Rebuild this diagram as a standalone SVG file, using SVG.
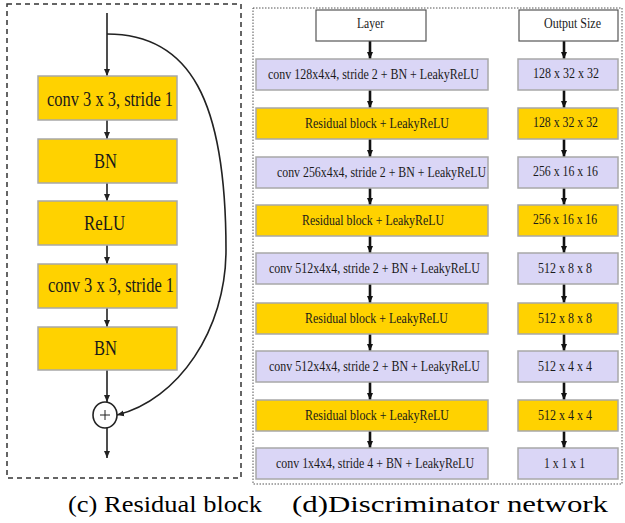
<svg xmlns="http://www.w3.org/2000/svg" width="625" height="523" viewBox="0 0 625 523">
<style>
.y{fill:#FFD200;stroke:#A8A8A8;stroke-width:1.5}
.p{fill:#DAD6F6;stroke:#A8A8A8;stroke-width:1.5}
.w{fill:#FFFFFF;stroke:#555;stroke-width:1.2}
text{font-family:"Liberation Serif","DejaVu Serif","Times New Roman",serif}
.t{fill:#1a1a1a}
.lt{font-size:20px;text-anchor:start}
.rt{font-size:14.5px;text-anchor:start}
.cap{font-size:24px;fill:#000}
.la{stroke:#222;stroke-width:1.6;fill:none}
.ra{stroke:#111;stroke-width:2.6;fill:none}
</style>
<defs>
<marker id="ah" markerUnits="userSpaceOnUse" markerWidth="8" markerHeight="8" refX="7" refY="4" orient="auto">
<path d="M0,1 L7,4 L0,7 Z" fill="#222"/>
</marker>
<marker id="ah2" markerUnits="userSpaceOnUse" markerWidth="8" markerHeight="8" refX="7" refY="4" orient="auto">
<path d="M0,1 L7,4 L0,7 Z" fill="#111"/>
</marker>
</defs>
<rect width="625" height="523" fill="#fff"/>
<!-- panel borders -->
<rect x="7" y="4" width="234" height="474" fill="none" stroke="#333" stroke-width="1.5" stroke-dasharray="5,4"/>
<rect x="253" y="8" width="369" height="476" fill="none" stroke="#555" stroke-width="1" stroke-dasharray="1.5,1.5"/>

<!-- connectors -->
<g id="connectors">
<line class="la" x1="107" y1="13" x2="107" y2="76" marker-end="url(#ah)"/>
<line class="la" x1="107" y1="120" x2="107" y2="139" marker-end="url(#ah)"/>
<line class="la" x1="107" y1="183" x2="107" y2="201" marker-end="url(#ah)"/>
<line class="la" x1="107" y1="245" x2="107" y2="264" marker-end="url(#ah)"/>
<line class="la" x1="107" y1="308" x2="107" y2="327" marker-end="url(#ah)"/>
<line class="la" x1="107" y1="370" x2="107" y2="402" marker-end="url(#ah)"/>
<line class="la" x1="107" y1="428" x2="107" y2="458" marker-end="url(#ah)"/>
<path class="la" d="M107,34 C190,34 226,100 226,250 C226,330 178,400 117,415" stroke-width="2" marker-end="url(#ah)"/>
<line class="ra" x1="370" y1="41" x2="370" y2="59" marker-end="url(#ah2)"/>
<line class="ra" x1="370" y1="90" x2="370" y2="108" marker-end="url(#ah2)"/>
<line class="ra" x1="370" y1="139" x2="370" y2="157" marker-end="url(#ah2)"/>
<line class="ra" x1="370" y1="188" x2="370" y2="205" marker-end="url(#ah2)"/>
<line class="ra" x1="370" y1="236" x2="370" y2="253" marker-end="url(#ah2)"/>
<line class="ra" x1="370" y1="284" x2="370" y2="303" marker-end="url(#ah2)"/>
<line class="ra" x1="370" y1="334" x2="370" y2="351" marker-end="url(#ah2)"/>
<line class="ra" x1="370" y1="382" x2="370" y2="400" marker-end="url(#ah2)"/>
<line class="ra" x1="370" y1="431" x2="370" y2="448" marker-end="url(#ah2)"/>
<line class="ra" x1="564" y1="41" x2="564" y2="59" marker-end="url(#ah2)"/>
<line class="ra" x1="564" y1="90" x2="564" y2="108" marker-end="url(#ah2)"/>
<line class="ra" x1="564" y1="139" x2="564" y2="157" marker-end="url(#ah2)"/>
<line class="ra" x1="564" y1="188" x2="564" y2="205" marker-end="url(#ah2)"/>
<line class="ra" x1="564" y1="236" x2="564" y2="253" marker-end="url(#ah2)"/>
<line class="ra" x1="564" y1="284" x2="564" y2="303" marker-end="url(#ah2)"/>
<line class="ra" x1="564" y1="334" x2="564" y2="351" marker-end="url(#ah2)"/>
<line class="ra" x1="564" y1="382" x2="564" y2="400" marker-end="url(#ah2)"/>
<line class="ra" x1="564" y1="431" x2="564" y2="448" marker-end="url(#ah2)"/>
</g>

<!-- residual block nodes -->
<g id="rb-conv1"><rect class="y" x="38" y="76" width="139" height="44"/><text class="t lt" x="47" y="106" textLength="126" lengthAdjust="spacingAndGlyphs">conv 3 x 3, stride 1</text></g>
<g id="rb-bn1"><rect class="y" x="38" y="139" width="139" height="44"/><text class="t lt" x="94" y="168" textLength="23" lengthAdjust="spacingAndGlyphs">BN</text></g>
<g id="rb-relu"><rect class="y" x="38" y="201" width="139" height="44"/><text class="t lt" x="84" y="230" textLength="41" lengthAdjust="spacingAndGlyphs">ReLU</text></g>
<g id="rb-conv2"><rect class="y" x="38" y="264" width="139" height="44"/><text class="t lt" x="48" y="292" textLength="126" lengthAdjust="spacingAndGlyphs">conv 3 x 3, stride 1</text></g>
<g id="rb-bn2"><rect class="y" x="38" y="327" width="139" height="43"/><text class="t lt" x="94" y="355" textLength="23" lengthAdjust="spacingAndGlyphs">BN</text></g>
<g id="rb-sum"><ellipse cx="105" cy="415" rx="12" ry="13" fill="#fff" stroke="#222" stroke-width="1.6"/><path d="M100,415 H110 M105,410 V420" stroke="#222" stroke-width="1"/></g>

<!-- discriminator layer column -->
<g id="layer-header"><rect class="w" x="316" y="10" width="110" height="31"/><text class="t rt" x="357" y="28" textLength="27" lengthAdjust="spacingAndGlyphs">Layer</text></g>
<g id="l1"><rect class="p" x="256" y="59" width="232" height="31"/><text class="t rt" x="268" y="79" textLength="211" lengthAdjust="spacingAndGlyphs">conv 128x4x4, stride 2 + BN + LeakyReLU</text></g>
<g id="l2"><rect class="y" x="256" y="108" width="232" height="31"/><text class="t rt" x="305" y="128" textLength="144" lengthAdjust="spacingAndGlyphs">Residual block + LeakyReLU</text></g>
<g id="l3"><rect class="p" x="256" y="157" width="232" height="31"/><text class="t rt" x="277" y="177" textLength="209" lengthAdjust="spacingAndGlyphs">conv 256x4x4, stride 2 + BN + LeakyReLU</text></g>
<g id="l4"><rect class="y" x="256" y="205" width="232" height="31"/><text class="t rt" x="302" y="225" textLength="142" lengthAdjust="spacingAndGlyphs">Residual block + LeakyReLU</text></g>
<g id="l5"><rect class="p" x="256" y="253" width="232" height="31"/><text class="t rt" x="269" y="273" textLength="211" lengthAdjust="spacingAndGlyphs">conv 512x4x4, stride 2 + BN + LeakyReLU</text></g>
<g id="l6"><rect class="y" x="256" y="303" width="232" height="31"/><text class="t rt" x="305" y="323" textLength="143" lengthAdjust="spacingAndGlyphs">Residual block + LeakyReLU</text></g>
<g id="l7"><rect class="p" x="256" y="351" width="232" height="31"/><text class="t rt" x="269" y="371" textLength="211" lengthAdjust="spacingAndGlyphs">conv 512x4x4, stride 2 + BN + LeakyReLU</text></g>
<g id="l8"><rect class="y" x="256" y="400" width="232" height="31"/><text class="t rt" x="305" y="420" textLength="144" lengthAdjust="spacingAndGlyphs">Residual block + LeakyReLU</text></g>
<g id="l9"><rect class="p" x="256" y="448" width="232" height="31"/><text class="t rt" x="276" y="468" textLength="198" lengthAdjust="spacingAndGlyphs">conv 1x4x4, stride 4 + BN + LeakyReLU</text></g>

<!-- output size column -->
<g id="out-header"><rect class="w" x="519" y="10" width="99" height="31"/><text class="t rt" x="544" y="28" textLength="57" lengthAdjust="spacingAndGlyphs">Output Size</text></g>
<g id="o1"><rect class="p" x="518" y="59" width="100" height="31"/><text class="t rt" x="533" y="78" textLength="66" lengthAdjust="spacingAndGlyphs">128 x 32 x 32</text></g>
<g id="o2"><rect class="y" x="518" y="108" width="100" height="31"/><text class="t rt" x="533" y="127" textLength="65" lengthAdjust="spacingAndGlyphs">128 x 32 x 32</text></g>
<g id="o3"><rect class="p" x="518" y="157" width="100" height="31"/><text class="t rt" x="533" y="176" textLength="65" lengthAdjust="spacingAndGlyphs">256 x 16 x 16</text></g>
<g id="o4"><rect class="y" x="518" y="205" width="100" height="31"/><text class="t rt" x="533" y="224" textLength="64" lengthAdjust="spacingAndGlyphs">256 x 16 x 16</text></g>
<g id="o5"><rect class="p" x="518" y="253" width="100" height="31"/><text class="t rt" x="538" y="273" textLength="54" lengthAdjust="spacingAndGlyphs">512 x 8 x 8</text></g>
<g id="o6"><rect class="y" x="518" y="303" width="100" height="31"/><text class="t rt" x="538" y="323" textLength="54" lengthAdjust="spacingAndGlyphs">512 x 8 x 8</text></g>
<g id="o7"><rect class="p" x="518" y="351" width="100" height="31"/><text class="t rt" x="538" y="371" textLength="54" lengthAdjust="spacingAndGlyphs">512 x 4 x 4</text></g>
<g id="o8"><rect class="y" x="518" y="400" width="100" height="31"/><text class="t rt" x="538" y="420" textLength="54" lengthAdjust="spacingAndGlyphs">512 x 4 x 4</text></g>
<g id="o9"><rect class="p" x="518" y="448" width="100" height="31"/><text class="t rt" x="544" y="468" textLength="41" lengthAdjust="spacingAndGlyphs">1 x 1 x 1</text></g>

<!-- captions -->
<text class="cap" x="68" y="512" textLength="194" lengthAdjust="spacingAndGlyphs">(c) Residual block</text>
<text class="cap" x="292" y="512" textLength="316" lengthAdjust="spacingAndGlyphs">(d)Discriminator network</text>
</svg>
